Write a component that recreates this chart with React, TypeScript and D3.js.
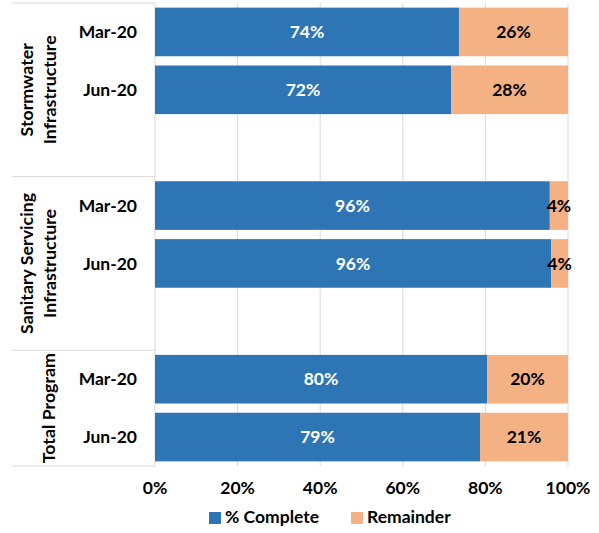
import React from "react";
import * as d3 from "d3";

const groups = [
  { name: ["Stormwater", "Infrastructure"] },
  { name: ["Sanitary Servicing", "Infrastructure"] },
  { name: ["Total Program"] },
];
const periods = ["Mar-20", "Jun-20"];
const complete = [73.6, 71.7, 95.6, 95.9, 80.4, 78.7];
const remainder = [26.4, 28.3, 4.4, 4.1, 19.6, 21.3];
const completeLabels = ["74%", "72%", "96%", "96%", "80%", "79%"];
const remainderLabels = ["26%", "28%", "4%", "4%", "20%", "21%"];
const xTicks = [0, 20, 40, 60, 80, 100];
const seriesNames = ["% Complete", "Remainder"];
const colors = ["#2e75b6", "#f4b183"];

const W = 599;
const H = 533;
const FONT = "Lato, 'Open Sans', sans-serif";
const FS = 17.5;

export default function App() {
  const x = d3.scaleLinear().domain([0, 100]).range([155, 568]);
  const slots = d3.range(8).map(String);
  const y = d3.scaleBand().domain(slots).range([3, 466]).paddingInner(0.16).paddingOuter(0.08);
  const step = y.step();
  const top = 3;
  const rows: { slot: number; g: number; p: number; i: number }[] = [];
  let slot = 0;
  let i = 0;
  groups.forEach((g, gi) => {
    periods.forEach((p, pi) => {
      rows.push({ slot, g: gi, p: pi, i });
      slot++;
      i++;
    });
    slot++;
  });
  const groupBounds = groups.map((g, gi) => {
    const rs = rows.filter((r) => r.g === gi);
    const start = top + rs[0].slot * step;
    const end = gi === groups.length - 1 ? 466 : top + (rs[rs.length - 1].slot + 2) * step;
    return { start, end };
  });
  const grid = "#d9d9d9";
  return (
    <svg width={W} height={H} style={{ position: "absolute", left: 0, top: 0, background: "#fff" }} fontFamily={FONT}>
      {xTicks.slice(1).map((t) => (
        <line key={t} x1={x(t)} x2={x(t)} y1={3} y2={466} stroke={grid} strokeWidth={1} />
      ))}
      <line x1={x(0)} x2={x(0)} y1={3} y2={466} stroke={grid} strokeWidth={1} />
      {[3, ...groupBounds.map((b) => b.end)].map((yy, k) => (
        <line key={k} x1={12} x2={x(0)} y1={yy} y2={yy} stroke={grid} strokeWidth={1} />
      ))}
      {rows.map((r) => {
        const yy = y(String(r.slot))!;
        const bh = y.bandwidth();
        const c = complete[r.i];
        const rem = remainder[r.i];
        return (
          <g key={r.i}>
            <rect x={x(0)} y={yy} width={x(c) - x(0)} height={bh} fill={colors[0]} />
            <rect x={x(c)} y={yy} width={x(c + rem) - x(c)} height={bh} fill={colors[1]} />
            <text x={(x(0) + x(c)) / 2} y={yy + bh / 2} dy="0.36em" textAnchor="middle" fill="#fff" fontWeight="bold" fontSize={FS}>
              {completeLabels[r.i]}
            </text>
            <text x={(x(c) + x(c + rem)) / 2} y={yy + bh / 2} dy="0.36em" textAnchor="middle" fill="#000" fontWeight="bold" fontSize={FS}>
              {remainderLabels[r.i]}
            </text>
            <text x={137} y={yy + bh / 2} dy="0.36em" textAnchor="end" fill="#000" fontWeight="bold" fontSize={FS}>
              {periods[r.p]}
            </text>
          </g>
        );
      })}
      {groups.map((g, gi) => {
        const cy = (groupBounds[gi].start + groupBounds[gi].end) / 2;
        const baselines = g.name.length === 2 ? [33, 56] : [55];
        return g.name.map((line, li) => (
          <text
            key={gi + "-" + li}
            transform={`translate(${baselines[li]},${cy}) rotate(-90)`}
            textAnchor="middle"
            fill="#000"
            fontWeight="bold"
            fontSize={17.8}
          >
            {line}
          </text>
        ));
      })}
      {xTicks.map((t) => (
        <text key={t} x={x(t)} y={494} textAnchor="middle" fill="#000" fontWeight="bold" fontSize={FS}>
          {t + "%"}
        </text>
      ))}
      <rect x={209} y={512} width={12} height={12} fill={colors[0]} />
      <text x={225} y={523} fill="#000" fontWeight="bold" fontSize={FS}>{seriesNames[0]}</text>
      <rect x={351} y={512} width={12} height={12} fill={colors[1]} />
      <text x={367} y={523} fill="#000" fontWeight="bold" fontSize={FS}>{seriesNames[1]}</text>
    </svg>
  );
}
